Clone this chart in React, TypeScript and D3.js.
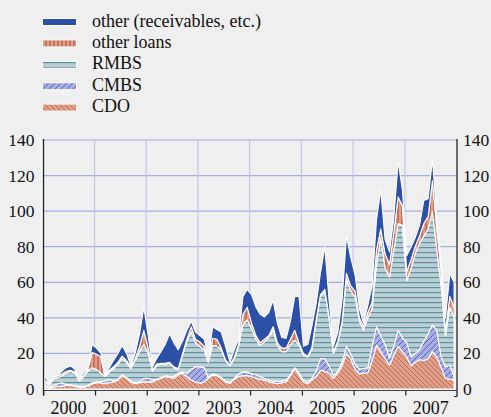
import React from "react";
import * as d3 from "d3";

// monthly, Jan 2000 .. Dec 2007 (USD bn)
const years = [2000, 2001, 2002, 2003, 2004, 2005, 2006, 2007];
const yTicks = [0, 20, 40, 60, 80, 100, 120, 140];

const cdo = [
  1.5, 0.5, 1, 1.5, 1.5, 2, 2, 1.5, 1, 1, 1.5, 3,
  3.5, 3.5, 3, 3.5, 4, 5, 7.5, 6, 4, 3, 3.5, 4,
  4, 4, 5, 6, 7, 6.5, 6, 8, 8.8, 7, 5, 4,
  3.2, 4, 6, 7.9, 7.5, 6, 4, 3.2, 5.5, 7, 7.5, 7.5,
  7, 6, 5.5, 5, 4, 3.5, 3, 3.5, 4, 7.5, 11.5, 8,
  4, 3, 5, 7, 10.5, 10, 9, 6, 9, 13, 20, 17,
  11, 8.5, 9, 9, 16, 24.5, 21, 17, 13.5, 19, 24, 21,
  18, 13, 15, 16.5, 16, 17, 21, 18, 12, 6, 5.5, 5,
];
const cmbs = [
  0.5, 0.5, 1, 1.5, 2, 0.5, 0.5, 0.5, 0.5, 0.5, 0.5, 0.5,
  0.5, 0.5, 1.5, 2, 0.5, 0.5, 0.5, 0.5, 0.5, 0.5, 0.5, 2,
  2, 1, 0.5, 0.5, 0.5, 0.5, 1, 1, 0.7, 2, 6, 8.5,
  9.3, 8, 0.5, 0.6, 0.5, 0.5, 0.5, 0.5, 0.5, 1.5, 2, 2,
  1.5, 2, 1.5, 1, 1, 1, 1.5, 1, 1, 0.5, 0.5, 1,
  1, 1, 1, 3, 6.5, 7, 4, 1.5, 1, 2, 4, 3,
  3, 2.5, 2.5, 3, 8, 10.5, 9, 8, 4, 5, 9, 8,
  8, 5, 5, 5.5, 11, 14, 15, 15, 6, 6.5, 8, 2,
];
const rmbs = [
  2, 1, 3.5, 3.5, 4, 6.5, 7.5, 7, 3, 5.5, 8, 8.5,
  7, 5, 2.5, 4, 7, 8.5, 9, 8.5, 7, 12.5, 17, 19,
  14, 5, 7.5, 7.5, 6.5, 7.5, 5, 2, 9.5, 18, 21, 13.5,
  11.5, 10, 8.5, 16, 16, 15.5, 11.5, 9.3, 11, 15.5, 26.5, 29.5,
  25.5, 20, 17.5, 20.5, 24, 28.5, 20, 16.5, 16, 17, 15.5, 16,
  14, 14, 16, 28, 35, 38, 27, 12.5, 16, 22, 38, 35,
  38, 27, 21.5, 28, 21, 35, 55, 43, 45.5, 54, 60, 63,
  35, 50, 56, 60, 59, 59, 64, 45, 40, 17.5, 32.5, 33,
];
const otherLoans = [
  1, 0.5, 1, 1, 1, 1, 0.5, 0.5, 0.5, 0.5, 1, 8.5,
  8.5, 9, 0.5, 1, 1, 1, 1.5, 1, 0.5, 1, 3, 8,
  3, 0.5, 1, 0.5, 0.5, 0.5, 0.5, 0.5, 1, 1, 3, 2,
  2.5, 2, 1, 4, 4, 1, 0.5, 0.5, 1, 1, 6, 7,
  3, 2, 1.5, 1.5, 1, 2, 1.5, 2, 2, 3, 5.5, 1,
  1, 0.5, 1, 1, 1, 1, 1, 1, 1, 1, 3, 3,
  3, 2, 2, 3, 4, 8, 5, 8, 7, 10, 15, 11,
  5, 5, 4, 4, 7, 7, 17, 13, 8, 3, 6, 6,
];
const other = [
  2.5, 0.5, 0.5, 0.5, 1.5, 2, 2.5, 1.5, 0.5, 1.5, 1, 4.5,
  3.5, 2, 0.5, 1.5, 3.5, 5, 6, 4, 1, 3, 7, 13,
  7, 2, 3, 6.5, 10.5, 16, 13.5, 10.5, 7, 5, 3, 4,
  3.5, 4, 1, 6.5, 5.5, 9, 7.5, 1.5, 4, 3, 10, 10,
  16, 16, 16, 12.5, 13, 15, 11, 6, 5.5, 10, 19, 26,
  4, 6.5, 12, 9, 12, 24, 9, 3, 5, 12, 21, 16,
  9, 5, 2, 4, 9, 17, 22, 8, 7, 8, 20, 9,
  9, 7, 5, 6, 13, 10, 12, 6, 6, 7, 13, 14,
];

const seriesKeys = ["cdo", "cmbs", "rmbs", "otherLoans", "other"];
const legendItems = [
  { key: "other", label: "other (receivables, etc.)" },
  { key: "otherLoans", label: "other loans" },
  { key: "rmbs", label: "RMBS" },
  { key: "cmbs", label: "CMBS" },
  { key: "cdo", label: "CDO" },
];

const fills: Record<string, string> = {
  cdo: "url(#pCdo)",
  cmbs: "url(#pCmbs)",
  rmbs: "url(#pRmbs)",
  otherLoans: "url(#pLoans)",
  other: "#2c4fa8",
};

const FONT = "'Liberation Serif', 'Times New Roman', serif";

export default function App() {
  const width = 491;
  const height = 417;
  const x0 = 42.7;
  const x1 = 456.5;
  const yTop = 140;
  const yBase = 389;

  const months = d3.range(96).map((i) => new Date(2000, i, 15));
  const rows = months.map((date, i) => ({
    date,
    cdo: cdo[i],
    cmbs: cmbs[i],
    rmbs: rmbs[i],
    otherLoans: otherLoans[i],
    other: other[i],
  }));

  const x = d3
    .scaleTime()
    .domain([new Date(2000, 0, 1), new Date(2008, 0, 1)])
    .range([x0, x1]);
  const y = d3.scaleLinear().domain([0, 140]).range([yBase, yTop]);

  const stacked = d3.stack<any>().keys(seriesKeys)(rows);
  const area = d3
    .area<any>()
    .x((d) => x(d.data.date))
    .y0((d) => y(d[0]))
    .y1((d) => y(d[1]));

  const yearStarts = d3.range(2000, 2009).map((yr) => new Date(yr, 0, 1));
  const axisY = 390.5;

  return (
    <svg
      width={width}
      height={height}
      style={{ position: "absolute", left: 0, top: 0, background: "#efefef" }}
    >
      <defs>
        <pattern id="pCdo" patternUnits="userSpaceOnUse" width={5} height={5}>
          <rect width={5} height={5} fill="#dca08b" />
          <path d="M0,0L5,5M-1,4L1,6M4,-1L6,1" stroke="#c65541" strokeWidth={0.8} />
        </pattern>
        <pattern id="pCmbs" patternUnits="userSpaceOnUse" width={6} height={6}>
          <rect width={6} height={6} fill="#a9aee2" />
          <path d="M0,6L6,0M-1,1L1,-1M5,7L7,5" stroke="#4453b8" strokeWidth={0.8} />
        </pattern>
        <pattern id="pRmbs" patternUnits="userSpaceOnUse" width={6} height={5}>
          <rect width={6} height={5} fill="#bacfd5" />
          <rect y={2} width={6} height={1.2} fill="#62929e" />
        </pattern>
        <pattern id="pLoans" patternUnits="userSpaceOnUse" width={4} height={4}>
          <rect width={4} height={4} fill="#dca08b" />
          <rect x={1.5} width={1} height={4} fill="#b8402d" />
        </pattern>
      </defs>

      {/* legend */}
      {legendItems.map((item, i) => {
        const top = 18.5 + i * 21.4;
        return (
          <g key={item.key}>
            <rect
              x={42.5}
              y={top}
              width={34}
              height={7}
              fill={fills[item.key]}
              stroke="#ffffff"
              strokeWidth={1}
            />
            <text x={92} y={top + 8} fontFamily={FONT} fontSize={18} fill="#111">
              {item.label}
            </text>
          </g>
        );
      })}

      {/* grid */}
      {yTicks
        .filter((t) => t > 0)
        .map((t) => (
          <line key={t} x1={x0} x2={x1} y1={y(t)} y2={y(t)} stroke="#a7abe0" strokeWidth={1.2} />
        ))}
      {yearStarts.slice(1, -1).map((d) => (
        <line
          key={d.getFullYear()}
          x1={x(d)}
          x2={x(d)}
          y1={yTop}
          y2={yBase}
          stroke="#c4c7ec"
          strokeWidth={1.2}
        />
      ))}

      {/* stacked areas */}
      {stacked.map((s) => (
        <path
          key={s.key}
          d={area(s) || ""}
          fill={fills[s.key]}
          stroke="#ffffff"
          strokeWidth={1.1}
          strokeLinejoin="round"
        />
      ))}

      {/* axes */}
      <line x1={41.8} x2={41.8} y1={yTop} y2={yBase} stroke="#ffffff" strokeWidth={1} />
      <line x1={43.5} x2={43.5} y1={yTop - 1} y2={axisY + 5} stroke="#222" strokeWidth={1.3} />
      <line x1={457} x2={457} y1={yTop - 1} y2={axisY + 6} stroke="#222" strokeWidth={1.3} />
      <line x1={454} x2={457} y1={axisY + 6} y2={axisY + 6} stroke="#222" strokeWidth={1} />
      <line x1={43.5} x2={457} y1={axisY} y2={axisY} stroke="#444" strokeWidth={1} />
      {yearStarts.slice(0, -1).map((d) => (
        <line
          key={"t" + d.getFullYear()}
          x1={x(d) + 1}
          x2={x(d) + 1}
          y1={axisY}
          y2={axisY + 5}
          stroke="#222"
          strokeWidth={1.2}
        />
      ))}

      {/* tick labels */}
      {yTicks.map((t) => (
        <g key={"l" + t} fontFamily={FONT} fontSize={17.5} fill="#111">
          <text x={34.5} y={y(t) + 6} textAnchor="end">
            {t}
          </text>
          <text x={463} y={y(t) + 6} textAnchor="start">
            {t}
          </text>
        </g>
      ))}
      {years.map((yr) => (
        <text
          key={yr}
          x={(x(new Date(yr, 0, 1)) + x(new Date(yr + 1, 0, 1))) / 2}
          y={414}
          textAnchor="middle"
          fontFamily={FONT}
          fontSize={18}
          fill="#111"
        >
          {yr}
        </text>
      ))}
    </svg>
  );
}
